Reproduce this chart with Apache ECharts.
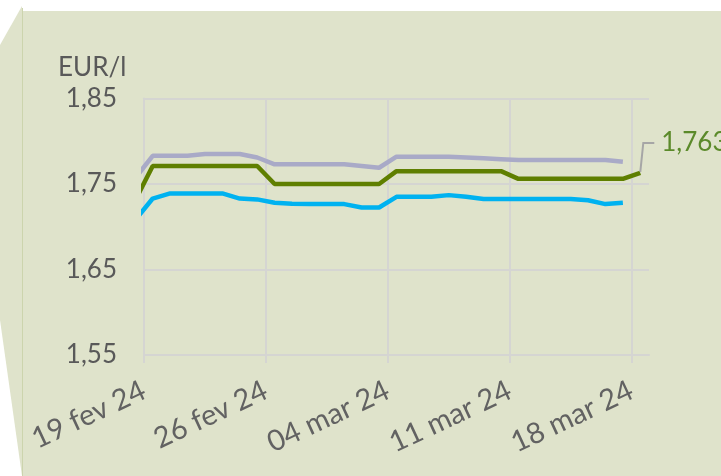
<!DOCTYPE html>
<html>
<head>
<meta charset="utf-8">
<script src="https://cdn.jsdelivr.net/npm/echarts@6/dist/echarts.min.js"></script>
<style>html,body{margin:0;padding:0;background:#fff;}#c{width:721px;height:476px;}</style>
</head>
<body>
<div id="c"></div>
<script>
// Daily dates (first day lies before the axis start and is clipped)
const dates = ['2024-02-18','2024-02-19','2024-02-20','2024-02-21','2024-02-22','2024-02-23','2024-02-24','2024-02-25',
  '2024-02-26','2024-02-27','2024-02-28','2024-02-29','2024-03-01','2024-03-02','2024-03-03',
  '2024-03-04','2024-03-05','2024-03-06','2024-03-07','2024-03-08','2024-03-09','2024-03-10',
  '2024-03-11','2024-03-12','2024-03-13','2024-03-14','2024-03-15','2024-03-16','2024-03-17','2024-03-18'];
const greyVals = [1.757, 1.783,1.783,1.783,1.785,1.785,1.785,1.781,
  1.773,1.773,1.773,1.773,1.773,1.771,1.769,
  1.782,1.782,1.782,1.782,1.781,1.780,1.779,
  1.778,1.778,1.778,1.778,1.778,1.778,1.776, null];
const greenVals = [1.731, 1.771,1.771,1.771,1.771,1.771,1.771,1.771,
  1.750,1.750,1.750,1.750,1.750,1.750,1.750,
  1.765,1.765,1.765,1.765,1.765,1.765,1.765,
  1.756,1.756,1.756,1.756,1.756,1.756,1.756, 1.763];
const blueVals = [1.708, 1.733,1.739,1.739,1.739,1.739,1.733,1.732,
  1.728,1.727,1.7265,1.7265,1.7265,1.7225,1.7225,
  1.735,1.735,1.735,1.737,1.735,1.7325,1.7325,
  1.7325,1.7325,1.7325,1.7325,1.731,1.7265,1.728, null];
const tickLabels = ['19 fev 24','26 fev 24','04 mar 24','11 mar 24','18 mar 24'];
const yTicks = [1.55, 1.65, 1.75, 1.85];
const axisStart = '2024-02-19';
const unitLabel = 'EUR/l';
const endLabel = '1,763';

const DAY = 86400000;
const t0 = Date.parse(axisStart);
// daily values plotted at the middle of each day
const xOf = d => (Date.parse(d) - t0) / DAY + 0.5;
const toData = vals => dates.map((d, i) => [xOf(d), vals[i]]);

const FONT = 'Lato';
const TXT = '#595959';
const GRID = '#d5d5d2';
const BG = '#dfe3cb';

const chart = echarts.init(document.getElementById('c'), null, {renderer: 'canvas'});
const option = {
  animation: false,
  backgroundColor: '#ffffff',
  graphic: [
    {id: 'bgSide', type: 'polygon', z: -10, shape: {points: [[22,6],[0,45],[0,320],[22,476]]}, style: {fill: BG}},
    {id: 'bgMain', type: 'rect', z: -10, shape: {x: 22, y: 11, width: 699, height: 465}, style: {fill: BG}},
    {id: 'bgEdge', type: 'line', z: -9, shape: {x1: 22.5, y1: 8, x2: 22.5, y2: 476}, style: {stroke: '#ccd4ad', lineWidth: 1}}
  ],
  title: {
    text: unitLabel, left: 58, top: 55, padding: 0,
    textStyle: {fontFamily: FONT, fontSize: 26, fontWeight: 'normal', color: TXT}
  },
  grid: {left: 144, right: 72, top: 98.5, bottom: 121, containLabel: false},
  xAxis: {
    type: 'value', min: 0, max: 29, interval: 7,
    axisLine: {show: true, lineStyle: {color: GRID, width: 2}},
    axisTick: {show: true, length: 8, lineStyle: {color: GRID, width: 2}},
    splitLine: {show: true, showMaxLine: false, lineStyle: {color: GRID, width: 2}},
    axisLabel: {
      rotate: 25, margin: 34, showMaxLabel: false,
      fontFamily: FONT, fontSize: 29, color: '#626262',
      formatter: v => (v % 7 === 0 ? (tickLabels[v / 7] || '') : '')
    }
  },
  yAxis: {
    type: 'value', min: yTicks[0], max: yTicks[yTicks.length - 1], interval: 0.1,
    axisLine: {show: true, lineStyle: {color: GRID, width: 2}},
    axisTick: {show: false},
    splitLine: {show: true, lineStyle: {color: GRID, width: 2}},
    axisLabel: {
      margin: 27, fontFamily: FONT, fontSize: 26, color: TXT,
      formatter: v => v.toFixed(2).replace('.', ',')
    }
  },
  series: [
    {type: 'line', name: 'grey', data: toData(greyVals), showSymbol: false, clip: true,
      lineStyle: {color: '#a9aac7', width: 4.5}, z: 3},
    {type: 'line', name: 'green', data: toData(greenVals), showSymbol: false, clip: true,
      lineStyle: {color: '#5f7f00', width: 4.5}, z: 4},
    {type: 'line', name: 'blue', data: toData(blueVals), showSymbol: false, clip: true,
      lineStyle: {color: '#00b2f0', width: 4.5}, z: 3}
  ]
};
chart.setOption(option);

// end label with leader line, anchored to the last green point via the axis scales
const lastIdx = greenVals.length - 1;
const p = chart.convertToPixel({xAxisIndex: 0, yAxisIndex: 0}, [xOf(dates[lastIdx]), greenVals[lastIdx]]);
chart.setOption({
  graphic: [
    {id: 'leader', type: 'polyline', z: 10, shape: {points: [[p[0], p[1] - 1], [p[0] + 3, p[1] - 30], [p[0] + 14, p[1] - 30]]},
      style: {stroke: '#a6a6a6', lineWidth: 2, fill: null}},
    {id: 'endText', type: 'text', z: 10, x: p[0] + 21, y: p[1] - 30,
      style: {text: endLabel, fontFamily: FONT, fontSize: 26, fill: '#5b8a2a', verticalAlign: 'middle', align: 'left'}}
  ]
});
</script>
</body>
</html>
